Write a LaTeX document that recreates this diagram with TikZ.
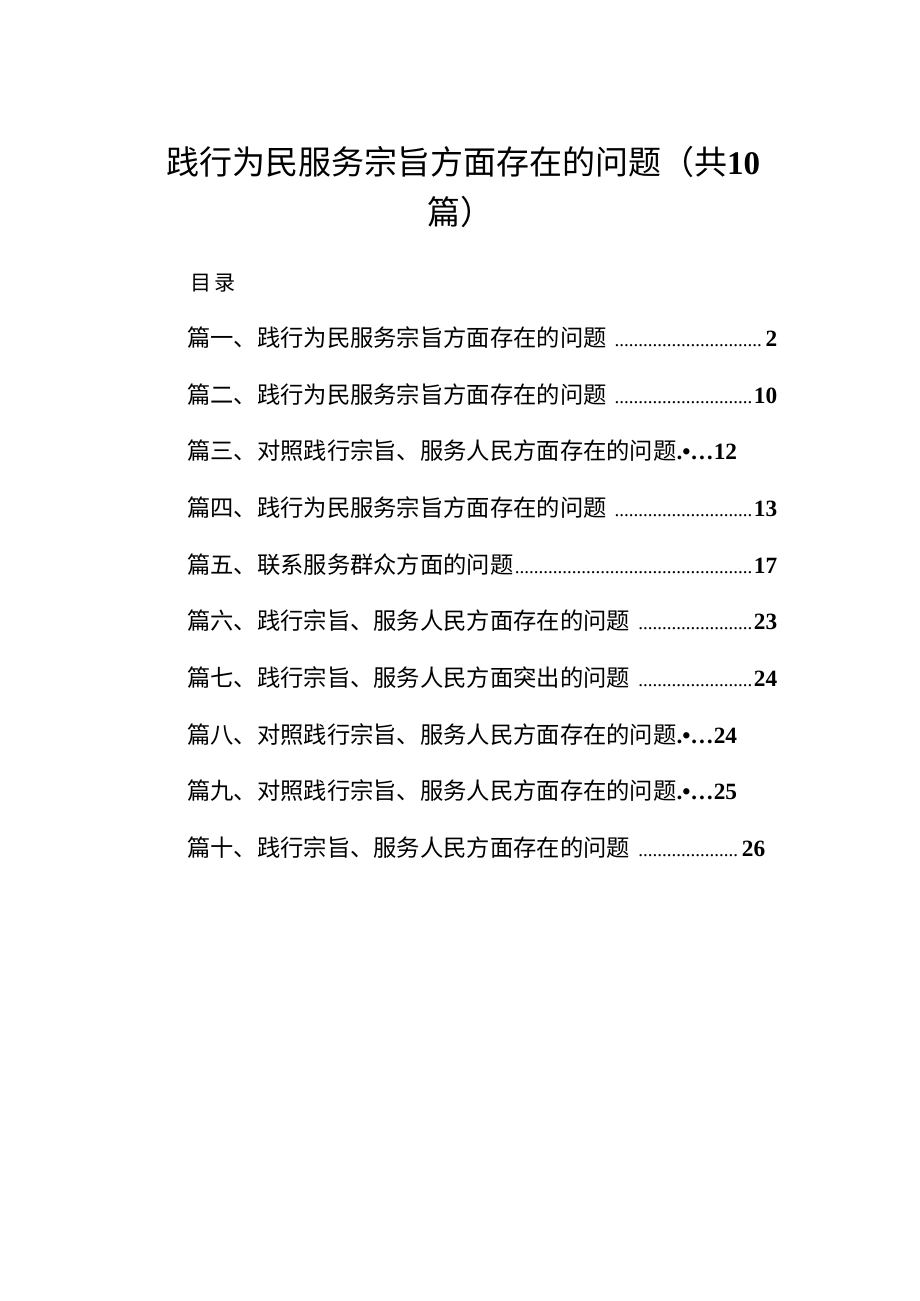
\documentclass[tikz,border=0pt]{standalone}
\usepackage{fontspec}
\newfontfamily\cjk{Noto Sans CJK SC}
\newfontfamily\numf{Liberation Serif}[BoldFont={Liberation Serif Bold}]
\newcommand\mydots{\leaders\hbox{\numf\fontsize{19}{22}\selectfont.}\hfill}
\begin{document}
\begin{tikzpicture}[x=1pt,y=1pt,
  title/.style={font=\cjk\fontsize{33}{38}\selectfont,inner sep=0pt},
  entry/.style={anchor=west,inner sep=0pt,font=\cjk\fontsize{23.3}{28}\selectfont}]
\useasboundingbox[fill=white] (0,0) rectangle (920,-1301);
\node[title] (t1) at (463,-162) {践行为民服务宗旨方面存在的问题（共{\numf\bfseries 10}};
\node[title] (t2) at (460,-212) {篇）};
\node[entry,font=\cjk\fontsize{21}{24}\selectfont] (ml) at (190,-283) {目\,录};
\newcommand\tocline[4]{\node[entry] (#1) at (187,#2) {\makebox[#3pt][s]{#4}};}
\tocline{e1}{-338}{590}{篇一、践行为民服务宗旨方面存在的问题\,\mydots{\numf\bfseries 2}}
\tocline{e2}{-395}{590}{篇二、践行为民服务宗旨方面存在的问题\,\mydots{\numf\bfseries 10}}
\node[entry] (e3) at (187,-451) {篇三、对照践行宗旨、服务人民方面存在的问题{\numf\bfseries .•…12}};
\tocline{e4}{-508}{590}{篇四、践行为民服务宗旨方面存在的问题\,\mydots{\numf\bfseries 13}}
\tocline{e5}{-565}{590}{篇五、联系服务群众方面的问题\mydots{\numf\bfseries 17}}
\tocline{e6}{-621}{590}{篇六、践行宗旨、服务人民方面存在的问题\,\mydots{\numf\bfseries 23}}
\tocline{e7}{-678}{590}{篇七、践行宗旨、服务人民方面突出的问题\,\mydots{\numf\bfseries 24}}
\node[entry] (e8) at (187,-735) {篇八、对照践行宗旨、服务人民方面存在的问题{\numf\bfseries .•…24}};
\node[entry] (e9) at (187,-791) {篇九、对照践行宗旨、服务人民方面存在的问题{\numf\bfseries .•…25}};
\tocline{e10}{-848}{578}{篇十、践行宗旨、服务人民方面存在的问题\,\mydots{\numf\bfseries 26}}
\end{tikzpicture}
\end{document}
